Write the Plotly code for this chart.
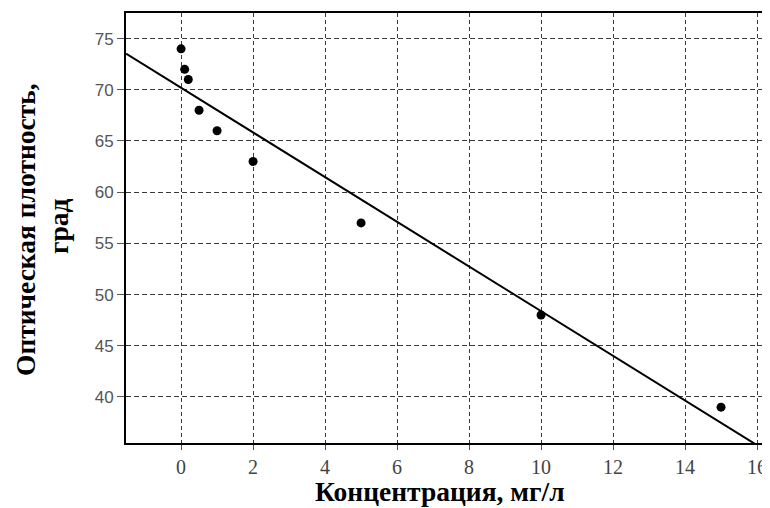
import numpy as np
import plotly.graph_objects as go

# Data
concentration = [0, 0.1, 0.2, 0.5, 1, 2, 5, 10, 15]
optical_density = [74, 72, 71, 68, 66, 63, 57, 48, 39]

x_ticks = [0, 2, 4, 6, 8, 10, 12, 14, 16]
y_ticks = [40, 45, 50, 55, 60, 65, 70, 75]

x_title = "Концентрация, мг/л"
y_title_1 = "Оптическая плотность,"
y_title_2 = "град"

x_range = [-1.53, 16.36]
y_range = [35.5, 77.5]

# Linear regression (trend line)
slope, intercept = np.polyfit(concentration, optical_density, 1)
line_x = np.array(x_range)
line_y = slope * line_x + intercept

fig = go.Figure()
fig.add_trace(go.Scatter(x=line_x, y=line_y, mode="lines",
                         line=dict(color="black", width=2), hoverinfo="skip"))
fig.add_trace(go.Scatter(x=concentration, y=optical_density, mode="markers",
                         marker=dict(color="black", size=9)))

grid_color = "#3a3a3a"
fig.update_layout(
    width=762, height=500,
    margin=dict(l=118, r=0, t=5, b=65),
    plot_bgcolor="white", paper_bgcolor="white",
    showlegend=False,
    xaxis=dict(range=x_range, tickvals=x_ticks, ticks="outside", ticklen=5,
               tickcolor="#555", showline=True, linecolor="black", linewidth=2,
               mirror=True, showgrid=True, gridcolor=grid_color, gridwidth=1,
               griddash="4px,3px", zeroline=False,
               tickfont=dict(family="Liberation Serif", size=20, color="#444")),
    yaxis=dict(range=y_range, tickvals=y_ticks, ticks="outside", ticklen=7,
               tickcolor="#555", showline=True, linecolor="black", linewidth=2,
               showgrid=True, gridcolor=grid_color, gridwidth=1,
               griddash="5px,3px", zeroline=False,
               tickfont=dict(family="Liberation Sans", size=17, color="#555")),
)

title_font = dict(family="Liberation Serif", size=27.5, color="black")
fig.add_annotation(text="<b>%s</b>" % x_title, xref="paper", yref="paper",
                   x=0.488, y=0, yanchor="middle", yshift=-48, showarrow=False,
                   font=title_font)
fig.add_annotation(text="<b>%s</b>" % y_title_1, xref="paper", yref="paper",
                   x=0, y=0.5, xanchor="center", yanchor="middle", xshift=-101,
                   yshift=-2, textangle=-90, showarrow=False, font=title_font)
fig.add_annotation(text="<b>%s</b>" % y_title_2, xref="paper", yref="paper",
                   x=0, y=0.5, xanchor="center", yanchor="middle", xshift=-68,
                   yshift=2, textangle=-90, showarrow=False, font=title_font)

fig.write_html("out.html")
